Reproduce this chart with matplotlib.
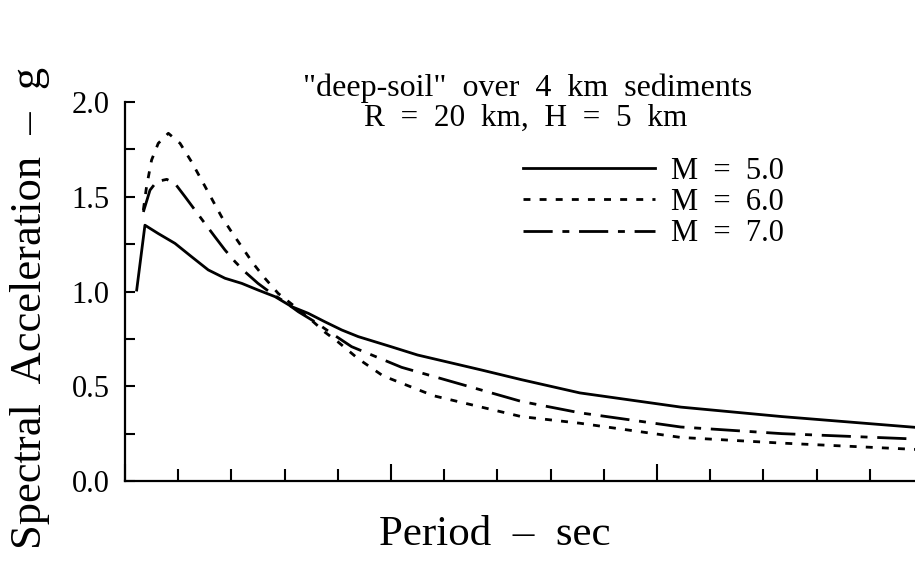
import numpy as np
import matplotlib
matplotlib.use("Agg")
import matplotlib.pyplot as plt
from matplotlib.ticker import MultipleLocator, NullFormatter

# spectral acceleration (g) vs period (sec), deep soil, R = 20 km, H = 5 km
period_m5 = [0.044, 0.075, 0.125, 0.188, 0.25, 0.313, 0.376, 0.439, 0.50, 0.564,
             0.627, 0.689, 0.752, 0.815, 0.877, 1.0, 1.10, 1.34, 1.49, 1.71,
             2.09, 2.47, 3.0]
sa_m5 = [1.008, 1.35, 1.306, 1.254, 1.184, 1.114, 1.07, 1.043, 1.008, 0.973,
         0.92, 0.885, 0.84, 0.797, 0.762, 0.709, 0.665, 0.586, 0.535, 0.465,
         0.39, 0.34, 0.28]

period_m6 = [0.069, 0.081, 0.10, 0.125, 0.163, 0.207, 0.25, 0.288, 0.326, 0.363,
             0.40, 0.439, 0.482, 0.526, 0.576, 0.639, 0.70, 0.752, 0.80, 0.877,
             0.97, 1.16, 1.49, 1.71, 2.09, 2.47, 3.0]
sa_m6 = [1.43, 1.553, 1.694, 1.782, 1.835, 1.782, 1.685, 1.588, 1.49, 1.395,
         1.316, 1.236, 1.148, 1.07, 0.99, 0.92, 0.85, 0.785, 0.735, 0.645,
         0.555, 0.45, 0.34, 0.305, 0.23, 0.20, 0.165]

period_m7 = [0.069, 0.094, 0.119, 0.157, 0.188, 0.226, 0.263, 0.30, 0.338, 0.376,
             0.414, 0.451, 0.50, 0.551, 0.60, 0.652, 0.714, 0.777, 0.852, 1.04,
             1.29, 1.49, 1.71, 2.09, 2.47, 3.0]
sa_m7 = [1.42, 1.535, 1.58, 1.592, 1.57, 1.50, 1.43, 1.36, 1.289, 1.219,
         1.157, 1.104, 1.043, 0.99, 0.946, 0.893, 0.84, 0.779, 0.709, 0.60,
         0.50, 0.42, 0.36, 0.285, 0.25, 0.22]

labels = ["M  =  5.0", "M  =  6.0", "M  =  7.0"]
title_1 = '"deep-soil"  over  4  km  sediments'
title_2 = "R  =  20  km,  H  =  5  km"

plt.rcParams["font.family"] = ["Liberation Serif", "DejaVu Serif"]

fig = plt.figure(figsize=(9.15, 5.70), dpi=100)
# axis runs a bit past the right edge of the sheet
ax = fig.add_axes([0.1366, 0.1561, 0.8721, 0.6649])

lw = 2.0
ax.plot(period_m5, sa_m5, color="black", lw=lw, label=labels[0])
ax.plot(period_m6, sa_m6, color="black", lw=lw, dashes=(2.5, 3.3), label=labels[1])
ax.plot(period_m7, sa_m7, color="black", lw=lw, dashes=(10.5, 3.5, 2.5, 3.5), label=labels[2])

ax.set_xlim(0, 3.0)
ax.set_ylim(0, 2.0)

for s in ("top", "right"):
    ax.spines[s].set_visible(False)
for s in ("left", "bottom"):
    ax.spines[s].set_linewidth(1.6)

ax.xaxis.set_major_locator(MultipleLocator(1.0))
ax.xaxis.set_minor_locator(MultipleLocator(0.2))
ax.xaxis.set_major_formatter(NullFormatter())
ax.yaxis.set_major_locator(MultipleLocator(0.5))
ax.yaxis.set_minor_locator(MultipleLocator(0.25))
ax.yaxis.set_major_formatter(lambda v, p: f"{v:.1f}")

ax.tick_params(axis="x", which="major", direction="in", length=12, width=1.5)
ax.tick_params(axis="x", which="minor", direction="in", length=9, width=1.5)
ax.tick_params(axis="y", which="both", direction="in", length=7.5, width=1.5,
               labelsize=22, pad=11)

ax.set_xlabel("Period  –  sec", fontsize=31)
ax.xaxis.set_label_coords(0.464, -0.092)
ax.set_ylabel("Spectral  Acceleration  –  g", fontsize=32)
ax.yaxis.set_label_coords(-0.094, 0.456)

ax.text(0.505, 1.037, title_1, transform=ax.transAxes, ha="center", va="center",
        fontsize=23)
ax.text(0.502, 0.958, title_2, transform=ax.transAxes, ha="center", va="center",
        fontsize=22.5)

ax.legend(loc="upper left", bbox_to_anchor=(0.499, 0.855), frameon=False,
          fontsize=22, handlelength=4.3, handletextpad=0.55, labelspacing=0.07,
          borderpad=0, borderaxespad=0)

fig.savefig("out.png", dpi=100)
